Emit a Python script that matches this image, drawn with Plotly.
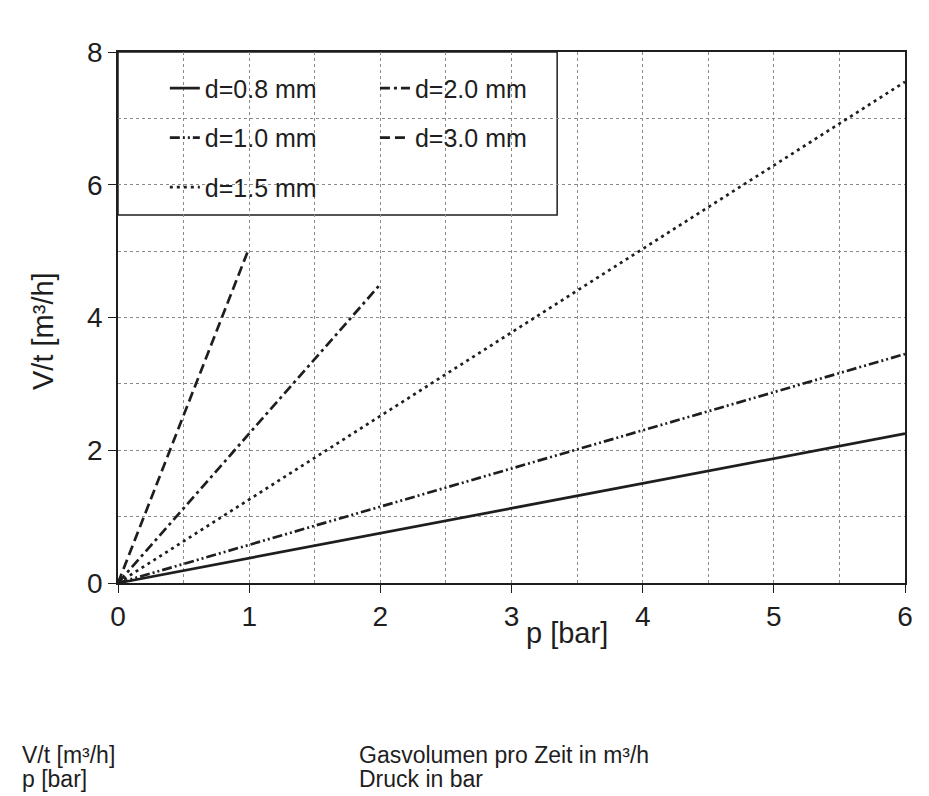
import plotly.graph_objects as go

# ---- data ----
p_d08 = [0, 6]
v_d08 = [0, 2.25]
p_d10 = [0, 6]
v_d10 = [0, 3.45]
p_d15 = [0, 6]
v_d15 = [0, 7.55]
p_d20 = [0, 2]
v_d20 = [0, 4.5]
p_d30 = [0, 1]
v_d30 = [0, 5.05]

x_tickvals = [0, 1, 2, 3, 4, 5, 6]
x_ticktext = ["0", "1", "2", "3", "4", "5", "6"]
y_tickvals = [0, 2, 4, 6, 8]
y_ticktext = ["0", "2", "4", "6", "8"]

FONT = "Liberation Sans, Arial, sans-serif"
INK = "#1e1e1e"

series = [
    # name, x, y, dash, legend
    ("d=0.8 mm", p_d08, v_d08, "solid", "legend"),
    ("d=1.0 mm", p_d10, v_d10, "10px,3px,2px,3px,2px,3px", "legend"),
    ("d=1.5 mm", p_d15, v_d15, "3px,4px", "legend"),
    ("d=2.0 mm", p_d20, v_d20, "10px,4px,3px,4px", "legend2"),
    ("d=3.0 mm", p_d30, v_d30, "10px,5px", "legend2"),
]

fig = go.Figure()
for name, xs, ys, dash, lg in series:
    fig.add_trace(go.Scatter(
        x=xs, y=ys, mode="lines", name=name,
        line=dict(color=INK, width=2.7, dash=dash),
        legend=lg, legendgroup=name,
    ))

axis_common = dict(
    showline=True, linecolor=INK, linewidth=1.5, mirror=True,
    ticks="outside", ticklen=8, tickcolor=INK,
    tickfont=dict(family=FONT, size=28, color=INK),
    showgrid=True, gridcolor="#8a8a8a", gridwidth=1, griddash="dot",
    zeroline=False,
)

fig.update_layout(
    width=921, height=788,
    margin=dict(l=110, r=24, t=44, b=213),
    paper_bgcolor="white", plot_bgcolor="white",
    font=dict(family=FONT, color=INK),
    xaxis=dict(range=[0, 6], tickmode="array", tickvals=x_tickvals, ticktext=x_ticktext,
               minor=dict(dtick=0.5, showgrid=True, gridcolor="#8a8a8a", griddash="dot"),
               ticklabelstandoff=0, **axis_common),
    yaxis=dict(range=[0, 8], tickmode="array", tickvals=y_tickvals, ticktext=y_ticktext,
               minor=dict(dtick=1, showgrid=True, gridcolor="#8a8a8a", griddash="dot"),
               **axis_common),
    legend=dict(x=0.0595, y=0.975, xanchor="left", yanchor="top",
                bgcolor="rgba(0,0,0,0)", borderwidth=0, traceorder="grouped",
                tracegroupgap=14, font=dict(family=FONT, size=25, color=INK)),
    legend2=dict(x=0.3265, y=0.975, xanchor="left", yanchor="top",
                 bgcolor="rgba(0,0,0,0)", borderwidth=0, traceorder="grouped",
                 tracegroupgap=14, font=dict(family=FONT, size=25, color=INK)),
    showlegend=True,
)

# legend frame (white box over the grid)
fig.add_shape(type="rect", xref="paper", yref="paper", x0=0, x1=0.558, y0=0.693, y1=1.0,
              line=dict(color=INK, width=1.5), fillcolor="white", layer="below")

ann_font = dict(family=FONT, size=29, color=INK)
fig.add_annotation(text="p [bar]", xref="paper", yref="paper", x=0.57, y=-0.095,
                   showarrow=False, xanchor="center", yanchor="middle", font=ann_font)
fig.add_annotation(text="V/t [m³/h]", xref="paper", yref="paper", x=-0.095, y=0.475,
                   showarrow=False, textangle=-90, xanchor="center", yanchor="middle", font=ann_font)

bottom_font = dict(family=FONT, size=23, color=INK)
fig.add_annotation(text="V/t [m³/h]", xref="paper", yref="paper", x=-0.1245, y=-0.323,
                   showarrow=False, xanchor="left", yanchor="middle", font=bottom_font)
fig.add_annotation(text="p [bar]", xref="paper", yref="paper", x=-0.1245, y=-0.370,
                   showarrow=False, xanchor="left", yanchor="middle", font=bottom_font)
fig.add_annotation(text="Gasvolumen pro Zeit in m³/h", xref="paper", yref="paper", x=0.3037, y=-0.323,
                   showarrow=False, xanchor="left", yanchor="middle", font=bottom_font)
fig.add_annotation(text="Druck in bar", xref="paper", yref="paper", x=0.3037, y=-0.370,
                   showarrow=False, xanchor="left", yanchor="middle", font=bottom_font)

fig.write_html("out.html")
